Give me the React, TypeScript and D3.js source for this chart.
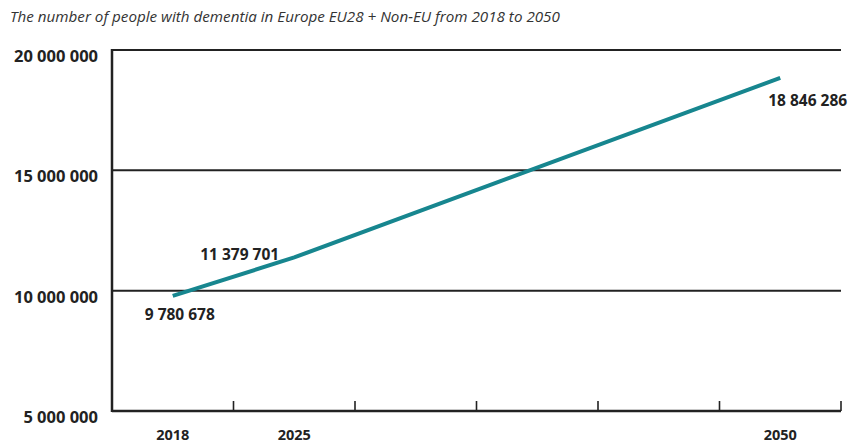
import { useEffect, useRef } from "react"
import * as d3 from "d3"

const title = "The number of people with dementia in Europe EU28 + Non-EU from 2018 to 2050"

// x bands (only some are labelled in the original)
const bands = ["2018", "2025", "2030", "2035", "2040", "2050"]
const bandLabels = ["2018", "2025", "", "", "", "2050"]

// series
const years = ["2018", "2025", "2050"]
const people = [9780678, 11379701, 18846286]
const valueLabels = ["9 780 678", "11 379 701", "18 846 286"]

const yTicks = [5000000, 10000000, 15000000, 20000000]

const fmt = (v: number) => d3.format(",")(v).replace(/,/g, " ")

export default function App() {
  const svgRef = useRef<SVGSVGElement>(null)

  useEffect(() => {
    document.body.style.margin = "0"
    if (!svgRef.current) return
    const root = d3.select(svgRef.current)
    root.selectAll("*").remove()

    const width = 848
    const height = 445
    const margin = { top: 50, right: 7, bottom: 34, left: 112 }
    const innerW = width - margin.left - margin.right
    const innerH = height - margin.top - margin.bottom
    const font = "'Open Sans', 'Noto Sans', sans-serif"

    root.attr("width", width).attr("height", height).style("display", "block").style("background", "#fff")

    root
      .append("text")
      .attr("x", 10)
      .attr("y", 22)
      .attr("font-family", font)
      .attr("font-style", "italic")
      .attr("font-size", 15.2)
      .attr("fill", "#333")
      .text(title)

    const g = root.append("g").attr("transform", `translate(${margin.left},${margin.top})`)

    const x = d3.scaleBand<string>().domain(bands).range([0, innerW])
    const y = d3.scaleLinear().domain([5000000, 20000000]).range([innerH, 0])

    // gridlines
    g.append("g")
      .selectAll("line")
      .data(yTicks.filter((t) => t > 5000000))
      .enter()
      .append("line")
      .attr("x1", 0)
      .attr("x2", innerW)
      .attr("y1", (d) => y(d))
      .attr("y2", (d) => y(d))
      .attr("stroke", "#222")
      .attr("stroke-width", 2)

    // left axis line
    g.append("line")
      .attr("x1", 0)
      .attr("x2", 0)
      .attr("y1", y(20000000) - 1)
      .attr("y2", innerH + 1)
      .attr("stroke", "#222")
      .attr("stroke-width", 2.5)

    // y labels
    g.append("g")
      .selectAll("text")
      .data(yTicks)
      .enter()
      .append("text")
      .attr("x", -14)
      .attr("y", (d) => y(d) + 12)
      .attr("text-anchor", "end")
      .attr("font-family", font)
      .attr("font-weight", 700)
      .attr("font-size", 16.5)
      .attr("fill", "#222")
      .text((d) => fmt(d))

    // bottom axis with upward ticks
    const xAxis = d3
      .axisBottom(x)
      .tickSize(0)
      .tickFormat((_d, i) => bandLabels[i])
    const ax = g.append("g").attr("transform", `translate(0,${innerH})`).call(xAxis)
    ax.select(".domain").remove()
    ax.selectAll("text")
      .attr("dy", 0)
      .attr("y", 29)
      .attr("font-family", font)
      .attr("font-weight", 700)
      .attr("font-size", 14.5)
      .attr("fill", "#222")

    g.append("line")
      .attr("x1", 0)
      .attr("x2", innerW)
      .attr("y1", innerH)
      .attr("y2", innerH)
      .attr("stroke", "#222")
      .attr("stroke-width", 2.5)

    g.append("g")
      .selectAll("line")
      .data(bands)
      .enter()
      .append("line")
      .attr("x1", (d) => (x(d) ?? 0) + x.bandwidth())
      .attr("x2", (d) => (x(d) ?? 0) + x.bandwidth())
      .attr("y1", innerH)
      .attr("y2", innerH - 10)
      .attr("stroke", "#222")
      .attr("stroke-width", 1.6)

    // line
    const pts = years.map((yr, i) => ({ x: (x(yr) ?? 0) + x.bandwidth() / 2, v: people[i] }))
    const line = d3
      .line<{ x: number; v: number }>()
      .x((d) => d.x)
      .y((d) => y(d.v))

    g.append("path")
      .datum(pts)
      .attr("fill", "none")
      .attr("stroke", "#17868f")
      .attr("stroke-width", 4)
      .attr("d", line)

    // value labels
    const offsets = [
      { dx: -28, dy: 24, anchor: "start" },
      { dx: -94, dy: 3, anchor: "start" },
      { dx: -12, dy: 28, anchor: "start" },
    ]
    g.append("g")
      .selectAll("text")
      .data(pts)
      .enter()
      .append("text")
      .attr("x", (d, i) => d.x + offsets[i].dx)
      .attr("y", (d, i) => y(d.v) + offsets[i].dy)
      .attr("text-anchor", (_d, i) => offsets[i].anchor)
      .attr("font-family", font)
      .attr("font-weight", 700)
      .attr("font-size", 15.5)
      .attr("fill", "#222")
      .text((_d, i) => valueLabels[i])
  }, [])

  return <svg ref={svgRef} />
}
